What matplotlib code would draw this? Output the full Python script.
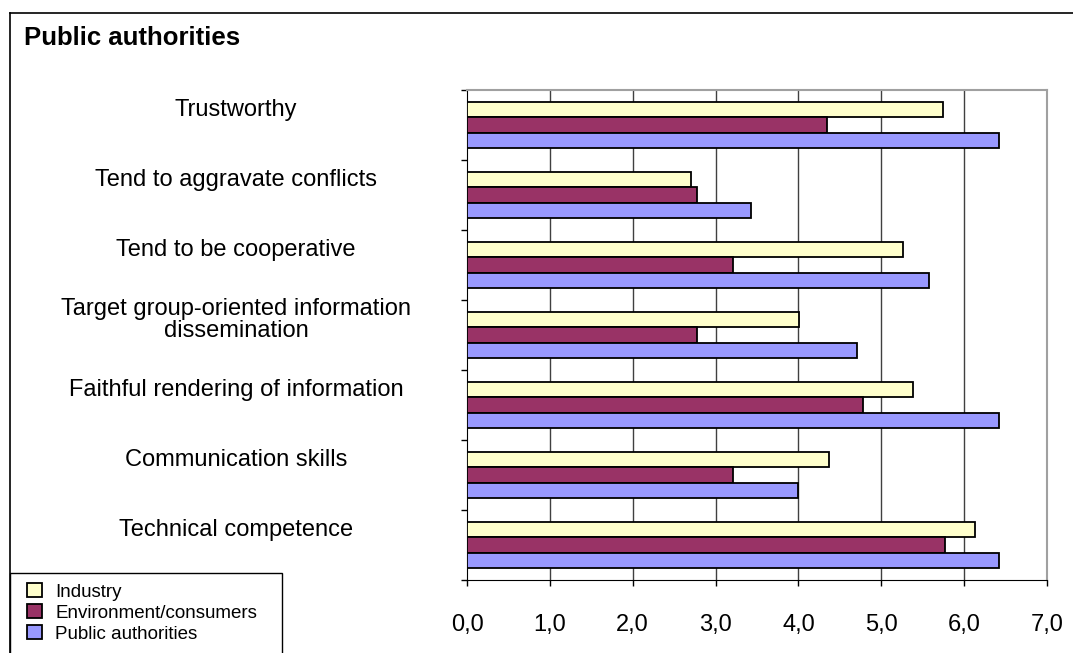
import numpy as np
import matplotlib.pyplot as plt
import matplotlib.transforms as mtransforms
from matplotlib.lines import Line2D
from matplotlib.patches import Rectangle

plt.rcParams['font.family'] = ['Liberation Sans', 'DejaVu Sans']

# categories listed from top to bottom
categories = [
    "Trustworthy",
    "Tend to aggravate conflicts",
    "Tend to be cooperative",
    "Target group-oriented information\ndissemination",
    "Faithful rendering of information",
    "Communication skills",
    "Technical competence",
]
industry = [5.74, 2.70, 5.26, 4.01, 5.38, 4.37, 6.13]
environment = [4.35, 2.78, 3.21, 2.78, 4.78, 3.21, 5.77]
public = [6.42, 3.43, 5.58, 4.71, 6.42, 4.00, 6.42]

series_names = ["Industry", "Environment/consumers", "Public authorities"]
colors = ["#FFFFCC", "#993366", "#9999FF"]
xticks = np.arange(0, 8)
xticklabels = ["0,0", "1,0", "2,0", "3,0", "4,0", "5,0", "6,0", "7,0"]

W, H = 1073, 653
fig = plt.figure(figsize=(W / 100, H / 100), dpi=100)
ax = fig.add_axes([467 / W, 1 - 580 / H, (1047 - 467) / W, (580 - 90) / H])

n = len(categories)
centers = n - 0.5 - np.arange(n)
bh = 0.222
for k, (vals, col, name) in enumerate(zip([industry, environment, public], colors, series_names)):
    ax.barh(centers + (1 - k) * bh, vals, height=bh, color=col,
            edgecolor="black", linewidth=1.3, label=name, zorder=3)

ax.set_xlim(0, 7)
ax.set_ylim(0, n)
ax.set_xticks(xticks)
ax.set_xticklabels(xticklabels, fontsize=17)
ax.set_yticks(np.arange(0, n + 1))
ax.set_yticklabels([])
ax.tick_params(axis="both", direction="out", length=4.5, width=1, color="black")
ax.tick_params(axis="x", pad=20)

for x in xticks[1:-1]:
    ax.axvline(x, color="#404040", linewidth=1, zorder=1)

ax.spines["left"].set_color("black")
ax.spines["bottom"].set_color("black")
ax.spines["top"].set_color("#A0A0A0")
ax.spines["right"].set_color("#A0A0A0")
ax.spines["top"].set_linewidth(1.5)
ax.spines["right"].set_linewidth(1.5)

# category names centred in the left margin, slightly above each group
trans = mtransforms.blended_transform_factory(fig.transFigure, ax.transData)
for c, name in zip(centers, categories):
    ax.text(236 / W, c + 0.21, name, transform=trans, ha="center", va="center",
            multialignment="center", fontsize=17, linespacing=1.0)

fig.text(24 / W, 1 - 45 / H, "Public authorities", fontsize=18.5,
         fontweight="bold", va="baseline")

# outer frame (top and left edges)
bx, by = 10 / W, 1 - 13 / H
fig.add_artist(Line2D([bx, 1], [by, by], color="black", linewidth=1.2,
                      transform=fig.transFigure))
fig.add_artist(Line2D([bx, bx], [0, by], color="black", linewidth=1.2,
                      transform=fig.transFigure))

# legend box runs off the bottom edge
fig.add_artist(Rectangle((bx, -0.05), (282 - 10) / W, 0.05 + (653 - 573) / H,
                         transform=fig.transFigure, facecolor="white",
                         edgecolor="black", linewidth=1.0, zorder=2))
leg = fig.legend(loc="upper left", bbox_to_anchor=(27 / W, 1 - 583 / H),
                 fontsize=13.5, frameon=False,
                 handlelength=0.8, handleheight=0.8, handletextpad=0.7,
                 labelspacing=0.18, borderpad=0, borderaxespad=0)
leg.set_zorder(3)

fig.savefig("out.png", dpi=100)
